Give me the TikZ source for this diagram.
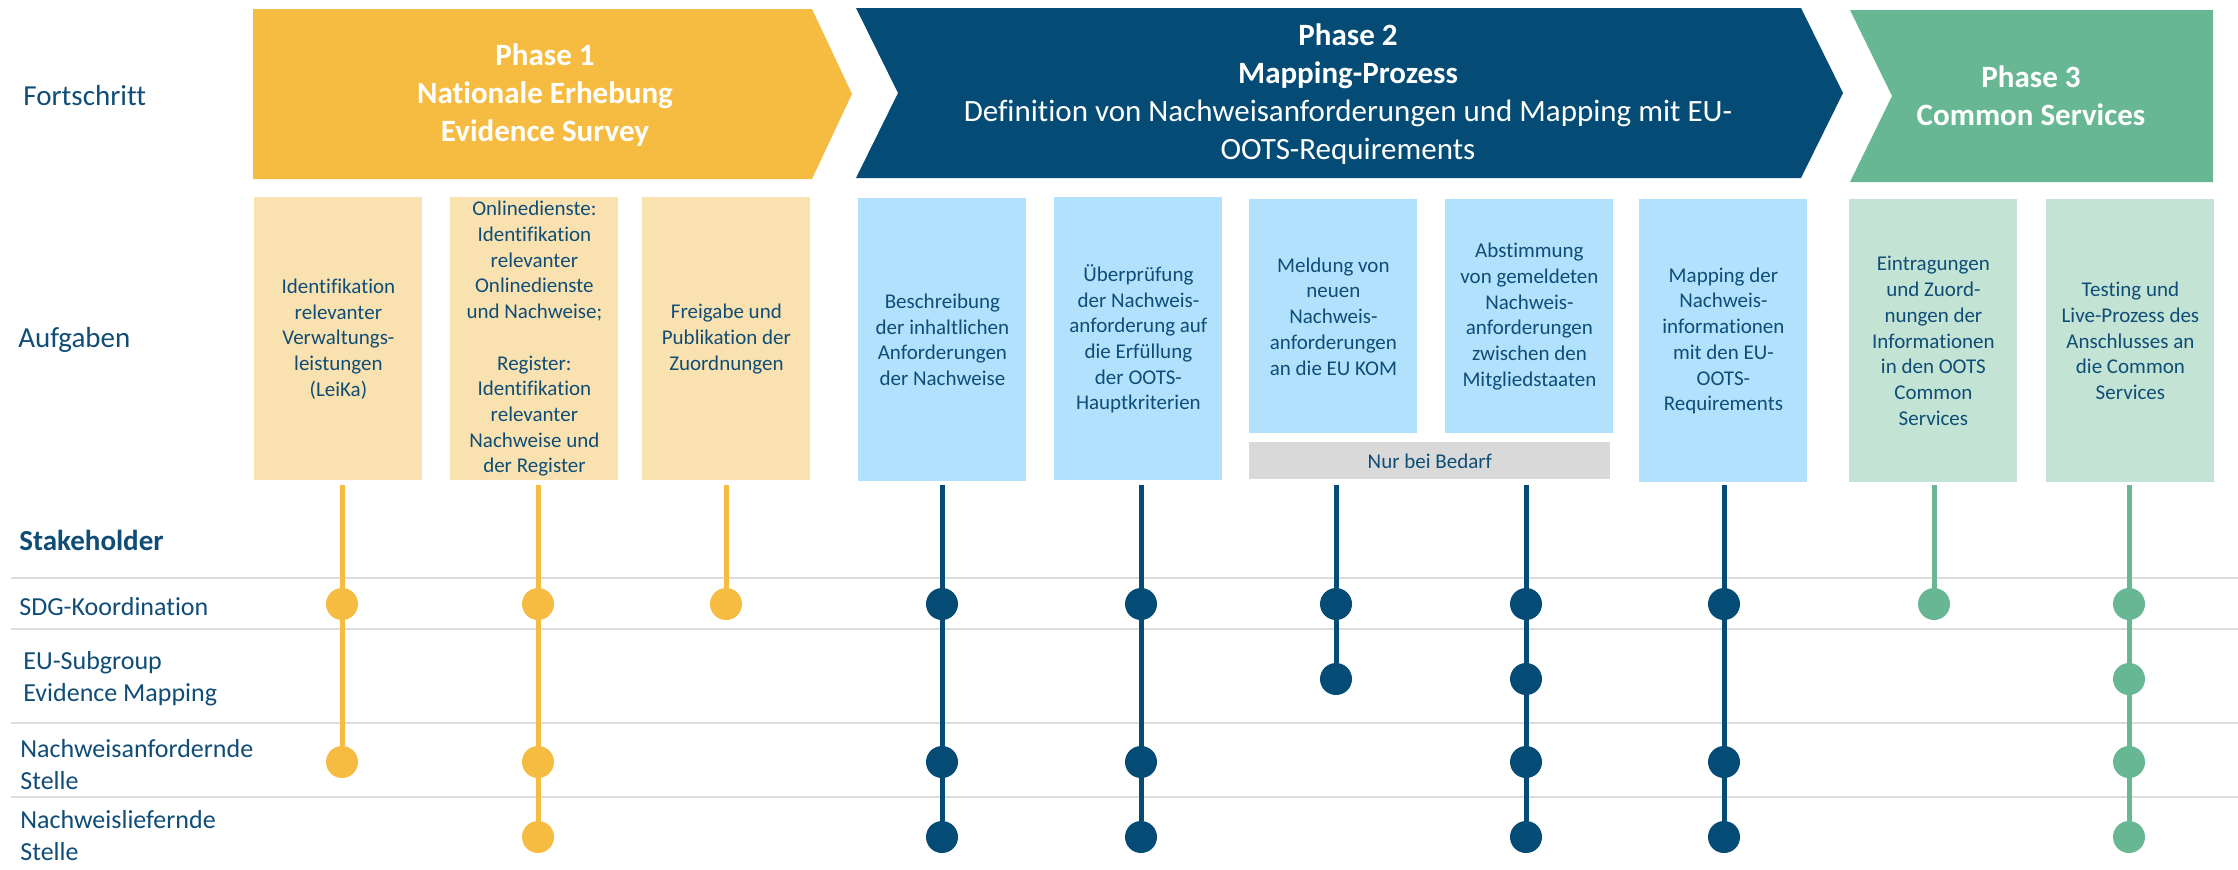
\documentclass[tikz,border=0pt]{standalone}
\usepackage{fontspec}
\setmainfont{Carlito}[Ligatures={NoCommon}]
\definecolor{pyellow}{HTML}{F6BC41}
\definecolor{pyellowl}{HTML}{FAE2B0}
\definecolor{pblue}{HTML}{044C76}
\definecolor{pbluel}{HTML}{B1E1FD}
\definecolor{pgreen}{HTML}{67B794}
\definecolor{pgreenl}{HTML}{C3E3D4}
\definecolor{pgray}{HTML}{D9D9D9}
\definecolor{txt}{HTML}{0F4D77}
\definecolor{sepc}{HTML}{DCDCDC}
\begin{document}
\begin{tikzpicture}[x=0.5pt,y=-0.5pt,
  taskbox/.style={anchor=north west, minimum width=84pt, minimum height=141.5pt,
    inner xsep=2pt, inner ysep=0pt, align=center, text=txt,
    font=\fontsize{10.5}{12.85}\selectfont},
  shortbox/.style={taskbox, minimum height=117pt},
  phasetxt/.style={align=center, text=white, inner sep=0pt,
    font=\fontsize{15.5}{19}\selectfont},
  rowlabel/.style={anchor=west, align=left, text=txt, inner sep=0pt,
    font=\fontsize{13}{16}\selectfont},
  biglabel/.style={anchor=west, align=left, text=txt, inner sep=0pt,
    font=\fontsize{14.5}{17}\selectfont},
  dot/.style={circle, minimum size=16pt, inner sep=0pt},
  vline/.style={line width=2.5pt},
  sepline/.style={draw=sepc, line width=1pt}
]
\useasboundingbox (0,0) rectangle (2238,869);

% Phase arrows
\fill[pyellow] (253,9) -- (812,9) -- (852,94) -- (812,179) -- (253,179) -- cycle;
\fill[pblue] (856,8) -- (1801,8) -- (1843,93) -- (1801,178) -- (856,178) -- (898,93) -- cycle;
\fill[pgreen] (1850,10) -- (2213,10) -- (2213,182) -- (1850,182) -- (1892,96) -- cycle;

\node[phasetxt] (ph1) at (545,95) {\textbf{Phase 1}\\\textbf{Nationale Erhebung}\\\textbf{Evidence Survey}};
\node[phasetxt] (ph2) at (1348,94) {\textbf{Phase 2}\\\textbf{Mapping-Prozess}\\Definition von Nachweisanforderungen und Mapping mit EU-\\OOTS-Requirements};
\node[phasetxt] (ph3) at (2031,96) {\textbf{Phase 3}\\\textbf{Common Services}};

% Left labels
\node[biglabel] (lfort) at (23,96) {Fortschritt};
\node[biglabel] (lauf) at (18,340) {Aufgaben};
\node[biglabel] (lstake) at (19,540) {\textbf{Stakeholder}};
\node[rowlabel] (lsdg) at (19,607) {SDG-Koordination};
\node[rowlabel] (leu) at (23,679) {EU-Subgroup\\Evidence Mapping};
\node[rowlabel] (lanf) at (20,765) {Nachweisanfordernde\\Stelle};
\node[rowlabel] (llief) at (20,836) {Nachweisliefernde\\Stelle};

% Task boxes
\node[taskbox, fill=pyellowl] (b1) at (254,197) {Identifikation\\relevanter\\Verwaltungs-\\leistungen\\(LeiKa)};
\node[taskbox, fill=pyellowl] (b2) at (450,197) {Onlinedienste:\\Identifikation\\relevanter\\Onlinedienste\\und Nachweise;\\\mbox{}\\Register:\\Identifikation\\relevanter\\Nachweise und\\der Register};
\node[taskbox, fill=pyellowl] (b3) at (642,197) {Freigabe und\\Publikation der\\Zuordnungen};
\node[taskbox, fill=pbluel] (b4) at (858,198) {Beschreibung\\der inhaltlichen\\Anforderungen\\der Nachweise};
\node[taskbox, fill=pbluel] (b5) at (1054,197) {Überprüfung\\der Nachweis-\\anforderung auf\\die Erfüllung\\der OOTS-\\Hauptkriterien};
\node[shortbox, fill=pbluel] (b6) at (1249,199) {Meldung von\\neuen\\Nachweis-\\anforderungen\\an die EU KOM};
\node[shortbox, fill=pbluel] (b7) at (1445,199) {Abstimmung\\von gemeldeten\\Nachweis-\\anforderungen\\zwischen den\\Mitgliedstaaten};
\node[anchor=north west, fill=pgray, minimum width=180.5pt, minimum height=18.5pt, inner sep=0pt,
  text=txt, font=\fontsize{10.5}{12.85}\selectfont] (bedarf) at (1249,442) {Nur bei Bedarf};
\node[taskbox, fill=pbluel] (b8) at (1639,199) {Mapping der\\Nachweis-\\informationen\\mit den EU-\\OOTS-\\Requirements};
\node[taskbox, fill=pgreenl] (b9) at (1849,199) {Eintragungen\\und Zuord-\\nungen der\\Informationen\\in den OOTS\\Common\\Services};
\node[taskbox, fill=pgreenl] (b10) at (2046,199) {Testing und\\Live-Prozess des\\Anschlusses an\\die Common\\Services};

% Separators
\coordinate (s1a) at (11,578); \coordinate (s1b) at (2238,578);
\coordinate (s2a) at (11,629); \coordinate (s2b) at (2238,629);
\coordinate (s3a) at (11,723); \coordinate (s3b) at (2238,723);
\coordinate (s4a) at (11,797); \coordinate (s4b) at (2238,797);
\draw[sepline] (s1a) -- (s1b);
\draw[sepline] (s2a) -- (s2b);
\draw[sepline] (s3a) -- (s3b);
\draw[sepline] (s4a) -- (s4b);

% Line tops
\coordinate (t1) at (342,485);
\coordinate (t2) at (538,485);
\coordinate (t3) at (726,485);
\coordinate (t4) at (942,485);
\coordinate (t5) at (1141,485);
\coordinate (t6) at (1336,485);
\coordinate (t7) at (1526,485);
\coordinate (t8) at (1724,485);
\coordinate (t9) at (1934,485);
\coordinate (t10) at (2129,485);

% Dots
\node[dot, fill=pyellow] (d1s) at (342,604) {};
\node[dot, fill=pyellow] (d1a) at (342,762) {};
\node[dot, fill=pyellow] (d2s) at (538,604) {};
\node[dot, fill=pyellow] (d2a) at (538,762) {};
\node[dot, fill=pyellow] (d2l) at (538,837) {};
\node[dot, fill=pyellow] (d3s) at (726,604) {};
\node[dot, fill=pblue] (d4s) at (942,604) {};
\node[dot, fill=pblue] (d4a) at (942,762) {};
\node[dot, fill=pblue] (d4l) at (942,837) {};
\node[dot, fill=pblue] (d5s) at (1141,604) {};
\node[dot, fill=pblue] (d5a) at (1141,762) {};
\node[dot, fill=pblue] (d5l) at (1141,837) {};
\node[dot, fill=pblue] (d6s) at (1336,604) {};
\node[dot, fill=pblue] (d6e) at (1336,679) {};
\node[dot, fill=pblue] (d7s) at (1526,604) {};
\node[dot, fill=pblue] (d7e) at (1526,679) {};
\node[dot, fill=pblue] (d7a) at (1526,762) {};
\node[dot, fill=pblue] (d7l) at (1526,837) {};
\node[dot, fill=pblue] (d8s) at (1724,604) {};
\node[dot, fill=pblue] (d8a) at (1724,762) {};
\node[dot, fill=pblue] (d8l) at (1724,837) {};
\node[dot, fill=pgreen] (d9s) at (1934,604) {};
\node[dot, fill=pgreen] (d10s) at (2129,604) {};
\node[dot, fill=pgreen] (d10e) at (2129,679) {};
\node[dot, fill=pgreen] (d10a) at (2129,762) {};
\node[dot, fill=pgreen] (d10l) at (2129,837) {};

% Vertical connectors
\draw[vline, pyellow] (t1) -- (d1a);
\draw[vline, pyellow] (t2) -- (d2l);
\draw[vline, pyellow] (t3) -- (d3s);
\draw[vline, pblue] (t4) -- (d4l);
\draw[vline, pblue] (t5) -- (d5l);
\draw[vline, pblue] (t6) -- (d6e);
\draw[vline, pblue] (t7) -- (d7l);
\draw[vline, pblue] (t8) -- (d8l);
\draw[vline, pgreen] (t9) -- (d9s);
\draw[vline, pgreen] (t10) -- (d10l);
\end{tikzpicture}
\end{document}
